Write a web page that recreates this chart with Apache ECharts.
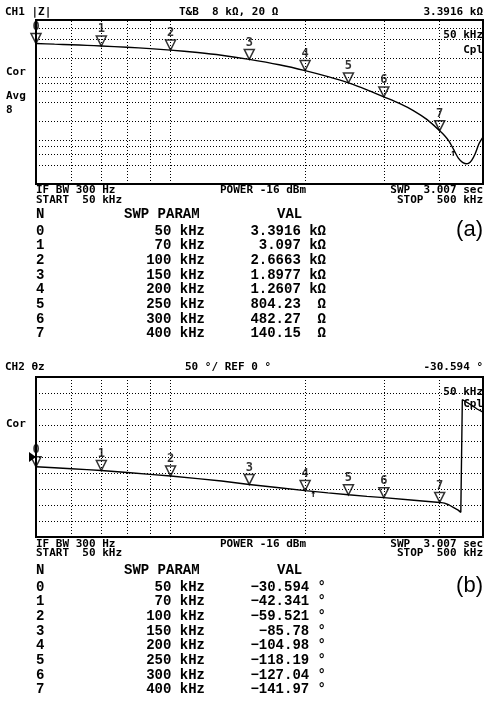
<!DOCTYPE html>
<html>
<head>
<meta charset="utf-8">
<script src="https://cdn.jsdelivr.net/npm/echarts@6/dist/echarts.min.js"></script>
<style>
  html, body { margin: 0; padding: 0; background: #fff; }
  #c { width: 484px; height: 712px; }
</style>
</head>
<body>
<div id="c"></div>
<script>
// Traced |Z| sweep: frequency (kHz) and magnitude (ohm)
const zFreq = [50, 55, 60, 65, 70, 80, 90, 100, 115, 130, 150, 175, 200, 225, 250, 275, 300, 325, 350, 375, 400, 410, 420, 430, 440, 450, 458, 465, 472, 480, 490, 500];
const zOhm  = [3391.6, 3310, 3240, 3170, 3097, 2960, 2810, 2666.3, 2440, 2210, 1897.7, 1560, 1260.7, 1010, 804.23, 625, 482.27, 380, 290, 210, 140.15, 118, 95, 70, 52, 44, 42, 43, 48, 60, 88, 111];

// Traced phase sweep: frequency (kHz) and angle (deg), wrapping at -180/+180
const phFreq = [50, 55, 60, 65, 70, 80, 90, 100, 115, 130, 150, 175, 200, 225, 250, 275, 300, 350, 400, 410, 420, 430, 440, 446, 449, 449.5, 455, 470, 485, 500];
const phDeg  = [-30.594, -33.6, -36.6, -39.5, -42.341, -48.6, -54.2, -59.521, -67.5, -75, -85.78, -96, -104.98, -112.2, -118.19, -123, -127.04, -135, -141.97, -144, -150, -158, -166, -173, -179, 179, 175, 163, 150, 140];

// Marker list (N, sweep parameter, value)
const mkFreq  = [50, 70, 100, 150, 200, 250, 300, 400];
const mkZ     = [3391.6, 3097, 2666.3, 1897.7, 1260.7, 804.23, 482.27, 140.15];
const mkPhase = [-30.594, -42.341, -59.521, -85.78, -104.98, -118.19, -127.04, -141.97];

// Graticule positions
const gridFreq = [60, 70, 80, 90, 100, 200, 300, 400];
const gridZ    = [40, 60, 80, 100, 200, 400, 600, 800, 1000, 2000, 4000, 6000];

const INK = '#000';
const INST = '"DejaVu Sans Mono", monospace';
const TAB = '"Liberation Mono", monospace';
const dotted = { color: INK, width: 1, type: [1, 2] };

function fmtZ(v) {
  return v >= 1000 ? (+(v / 1000).toFixed(4)) + ' kΩ' : v + '  Ω';
}
function fmtPh(v) {
  return String(v).replace('-', '\u2212') + ' °';
}

function txt(text, x, y, opt) {
  opt = opt || {};
  const align = opt.align || 'left';
  return {
    type: 'text', silent: true, z: 10,
    style: {
      text: text, x: x, y: y,
      font: opt.font || ('bold 11px ' + INST),
      fill: INK,
      align: align, textAlign: align,
      verticalAlign: 'middle', textVerticalAlign: 'middle'
    }
  };
}

const g = [];
// Channel 1 annotations
g.push(txt('CH1 |Z|', 5, 12));
g.push(txt('T&B  8 kΩ, 20 Ω', 179, 12));
g.push(txt(fmtZ(mkZ[0]).replace('  ', ' '), 483, 12, { align: 'right' }));
g.push(txt('Cor', 6, 72));
g.push(txt('Avg', 6, 96));
g.push(txt('8', 6, 110));
g.push(txt(mkFreq[0] + ' kHz', 483, 35, { align: 'right' }));
g.push(txt('Cpl', 483, 50, { align: 'right' }));
g.push(txt('IF BW 300 Hz', 36, 190.5));
g.push(txt('START  50 kHz', 36, 200));
g.push(txt('POWER -16 dBm', 220, 190.5));
g.push(txt('SWP  3.007 sec', 483, 190.5, { align: 'right' }));
g.push(txt('STOP  500 kHz', 483, 200, { align: 'right' }));
g.push(txt('↑', 453, 153, { font: 'bold 10px ' + INST, align: 'center' }));

// Channel 2 annotations
g.push(txt('CH2 θz', 5, 367));
g.push(txt('50 °/ REF 0 °', 185, 367));
g.push(txt(String(mkPhase[0]) + ' °', 483, 367, { align: 'right' }));
g.push(txt('Cor', 6, 424));
g.push(txt(mkFreq[0] + ' kHz', 483, 392, { align: 'right' }));
g.push(txt('Cpl', 483, 404, { align: 'right' }));
g.push(txt('IF BW 300 Hz', 36, 544));
g.push(txt('START  50 kHz', 36, 553.5));
g.push(txt('POWER -16 dBm', 220, 544));
g.push(txt('SWP  3.007 sec', 483, 544, { align: 'right' }));
g.push(txt('STOP  500 kHz', 483, 553.5, { align: 'right' }));
g.push(txt('↑', 313, 494, { font: 'bold 10px ' + INST, align: 'center' }));
// reference-level pointer on the left edge of channel 2
g.push({ type: 'polygon', silent: true, z: 10, shape: { points: [[29, 452], [36, 457], [29, 462]] }, style: { fill: INK } });

// Marker tables
const tabFont = 'bold 14px ' + TAB;
function table(top, rowStep, values, fmt) {
  g.push(txt('N', 36, top, { font: tabFont }));
  g.push(txt('SWP PARAM', 124, top, { font: tabFont }));
  g.push(txt('VAL', 277, top, { font: tabFont }));
  values.forEach(function (v, i) {
    const y = top + 17 + i * rowStep;
    g.push(txt(String(i), 36, y, { font: tabFont }));
    g.push(txt(mkFreq[i] + ' kHz', 205, y, { font: tabFont, align: 'right' }));
    g.push(txt(fmt(v), 326, y, { font: tabFont, align: 'right' }));
  });
}
table(214, 14.7, mkZ, fmtZ);
table(570, 14.7, mkPhase, fmtPh);

g.push(txt('(a)', 483, 230, { font: '22px "Liberation Sans", Arial, sans-serif', align: 'right' }));
g.push(txt('(b)', 483, 586, { font: '22px "Liberation Sans", Arial, sans-serif', align: 'right' }));

const hidden = {
  axisLine: { show: false }, axisTick: { show: false },
  axisLabel: { show: false }, splitLine: { show: false }
};

const markerSymbol = 'path://M0,0L10,0L5,10Z';
function markerSeries(xi, yi, vals) {
  return {
    type: 'scatter', xAxisIndex: xi, yAxisIndex: yi, z: 5,
    data: mkFreq.map(function (f, i) { return [f, vals[i]]; }),
    symbol: markerSymbol, symbolSize: [10, 10], symbolOffset: [0, '-50%'],
    itemStyle: { color: 'rgba(0,0,0,0)', borderColor: INK, borderWidth: 1.5 },
    label: {
      show: true, position: 'top', distance: 0,
      formatter: function (p) { return String(p.dataIndex); },
      fontFamily: INST, fontWeight: 'bold', fontSize: 12, color: INK
    },
    emphasis: { disabled: true }, silent: true
  };
}

const option = {
  animation: false,
  backgroundColor: '#fff',
  grid: [
    { left: 36, top: 20, width: 447, height: 164, show: true, borderColor: INK, borderWidth: 2, backgroundColor: 'transparent' },
    { left: 36, top: 377, width: 447, height: 160, show: true, borderColor: INK, borderWidth: 2, backgroundColor: 'transparent' }
  ],
  xAxis: [
    Object.assign({ type: 'log', gridIndex: 0, min: 50, max: 500, logBase: 10 }, hidden),
    Object.assign({ type: 'log', gridIndex: 1, min: 50, max: 500, logBase: 10 }, hidden)
  ],
  yAxis: [
    Object.assign({ type: 'log', gridIndex: 0, min: 20, max: 8000, logBase: 10 }, hidden),
    Object.assign({}, hidden, {
      type: 'value', gridIndex: 1, min: -250, max: 250, interval: 50,
      splitLine: { show: true, lineStyle: dotted }
    })
  ],
  series: [
    {
      type: 'line', xAxisIndex: 0, yAxisIndex: 0, z: 4,
      data: zFreq.map(function (f, i) { return [f, zOhm[i]]; }),
      showSymbol: false, smooth: 0.25,
      lineStyle: { color: INK, width: 1.4 },
      silent: true,
      markLine: {
        silent: true, symbol: ['none', 'none'], label: { show: false },
        lineStyle: dotted, animation: false,
        data: gridZ.map(function (v) { return { yAxis: v }; })
          .concat(gridFreq.map(function (v) { return { xAxis: v }; }))
      }
    },
    markerSeries(0, 0, mkZ),
    {
      type: 'line', xAxisIndex: 1, yAxisIndex: 1, z: 4,
      data: phFreq.map(function (f, i) { return [f, phDeg[i]]; }),
      showSymbol: false, smooth: false,
      lineStyle: { color: INK, width: 1.4 },
      silent: true,
      markLine: {
        silent: true, symbol: ['none', 'none'], label: { show: false },
        lineStyle: dotted, animation: false,
        data: gridFreq.map(function (v) { return { xAxis: v }; })
      }
    },
    markerSeries(1, 1, mkPhase)
  ],
  graphic: { elements: g }
};

const chart = echarts.init(document.getElementById('c'));
chart.setOption(option);
</script>
</body>
</html>
